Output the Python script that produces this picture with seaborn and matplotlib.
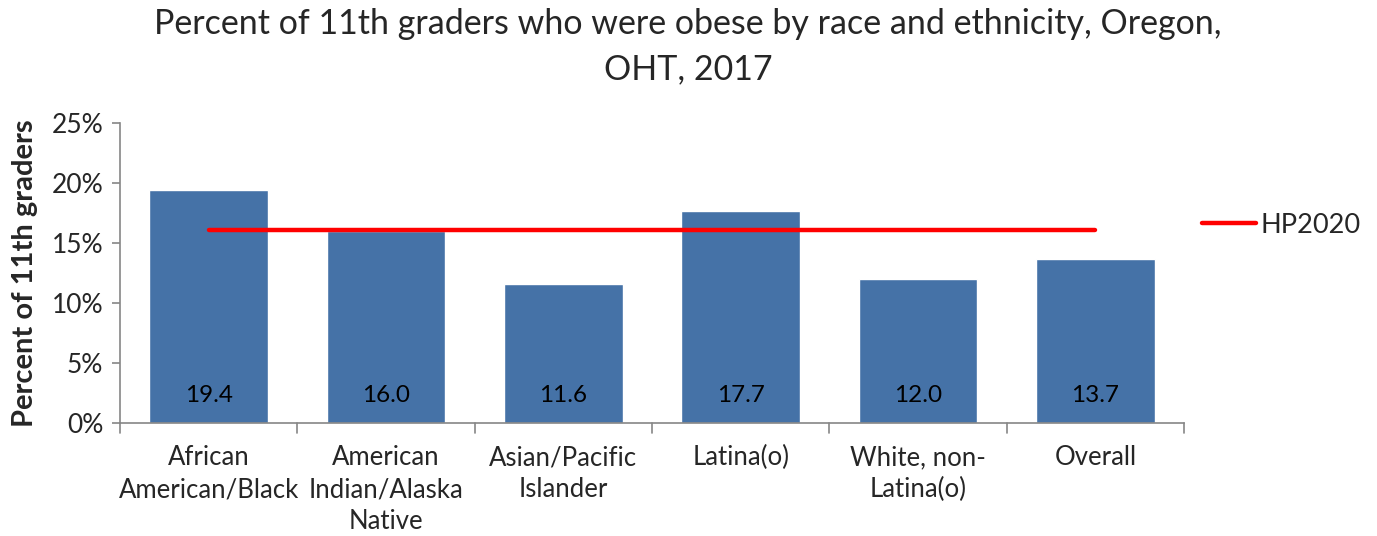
import numpy as np
import pandas as pd
import seaborn as sns
from matplotlib import pyplot as plt

categories = ['African\nAmerican/Black', 'American\nIndian/Alaska\nNative', 'Asian/Pacific\nIslander',
              'Latina(o)', 'White, non-\nLatina(o)', 'Overall']
percent_obese = [19.4, 16.0, 11.6, 17.7, 12.0, 13.7]
hp2020_target = 16.1

df = pd.DataFrame({'Group': categories, 'Percent': percent_obese})

sns.set_style('white')
plt.rcParams['font.family'] = ['Lato', 'DejaVu Sans']

fig = plt.figure(figsize=(13.77, 5.36), dpi=100)
ax = fig.add_axes([120 / 1377, 1 - 423 / 536, 1064 / 1377, 300 / 536])

sns.barplot(data=df, x='Group', y='Percent', color='#4572A7', saturation=1, width=0.67, ax=ax)

# HP2020 target line from first to last bar centre
ax.plot([0, len(categories) - 1], [hp2020_target] * 2, color='#FF0000', lw=3.2,
        solid_capstyle='round', label='HP2020')

for i, v in enumerate(percent_obese):
    ax.text(i, 2.3, f'{v:.1f}', ha='center', va='center', fontsize=17.5, color='black')

ax.set_xlim(-0.5, len(categories) - 0.5)
ax.set_ylim(0, 25)
ax.set_yticks(np.arange(0, 26, 5))
ax.set_yticklabels([f'{t}%' for t in range(0, 26, 5)], fontsize=19)
ax.set_xticks(range(len(categories)))
ax.set_xticklabels(categories, fontsize=18.5, linespacing=1.35)
ax.tick_params(axis='x', length=0, pad=16)
ax.tick_params(axis='y', length=6, color='#868686', width=1.2, direction='out', left=True, pad=6)
# boundary ticks on x axis
for b in np.arange(-0.5, len(categories), 1):
    ax.plot([b, b], [0, -0.8], color='#868686', lw=1.2, clip_on=False)

for s in ['top', 'right']:
    ax.spines[s].set_visible(False)
for s in ['left', 'bottom']:
    ax.spines[s].set_color('#868686')
    ax.spines[s].set_linewidth(1.2)

ax.set_xlabel('')
ax.set_ylabel('Percent of 11th graders', fontsize=21, fontweight='bold', labelpad=10)

fig.suptitle('Percent of 11th graders who were obese by race and ethnicity, Oregon,\nOHT, 2017',
             fontsize=24.5, y=0.985, x=688 / 1377, linespacing=1.5)

ax.legend(loc='center left', bbox_to_anchor=(0.994, 0.66), frameon=False, fontsize=19.5,
          handlelength=2.0, handletextpad=0.15)

fig.savefig('out.png', dpi=100)
